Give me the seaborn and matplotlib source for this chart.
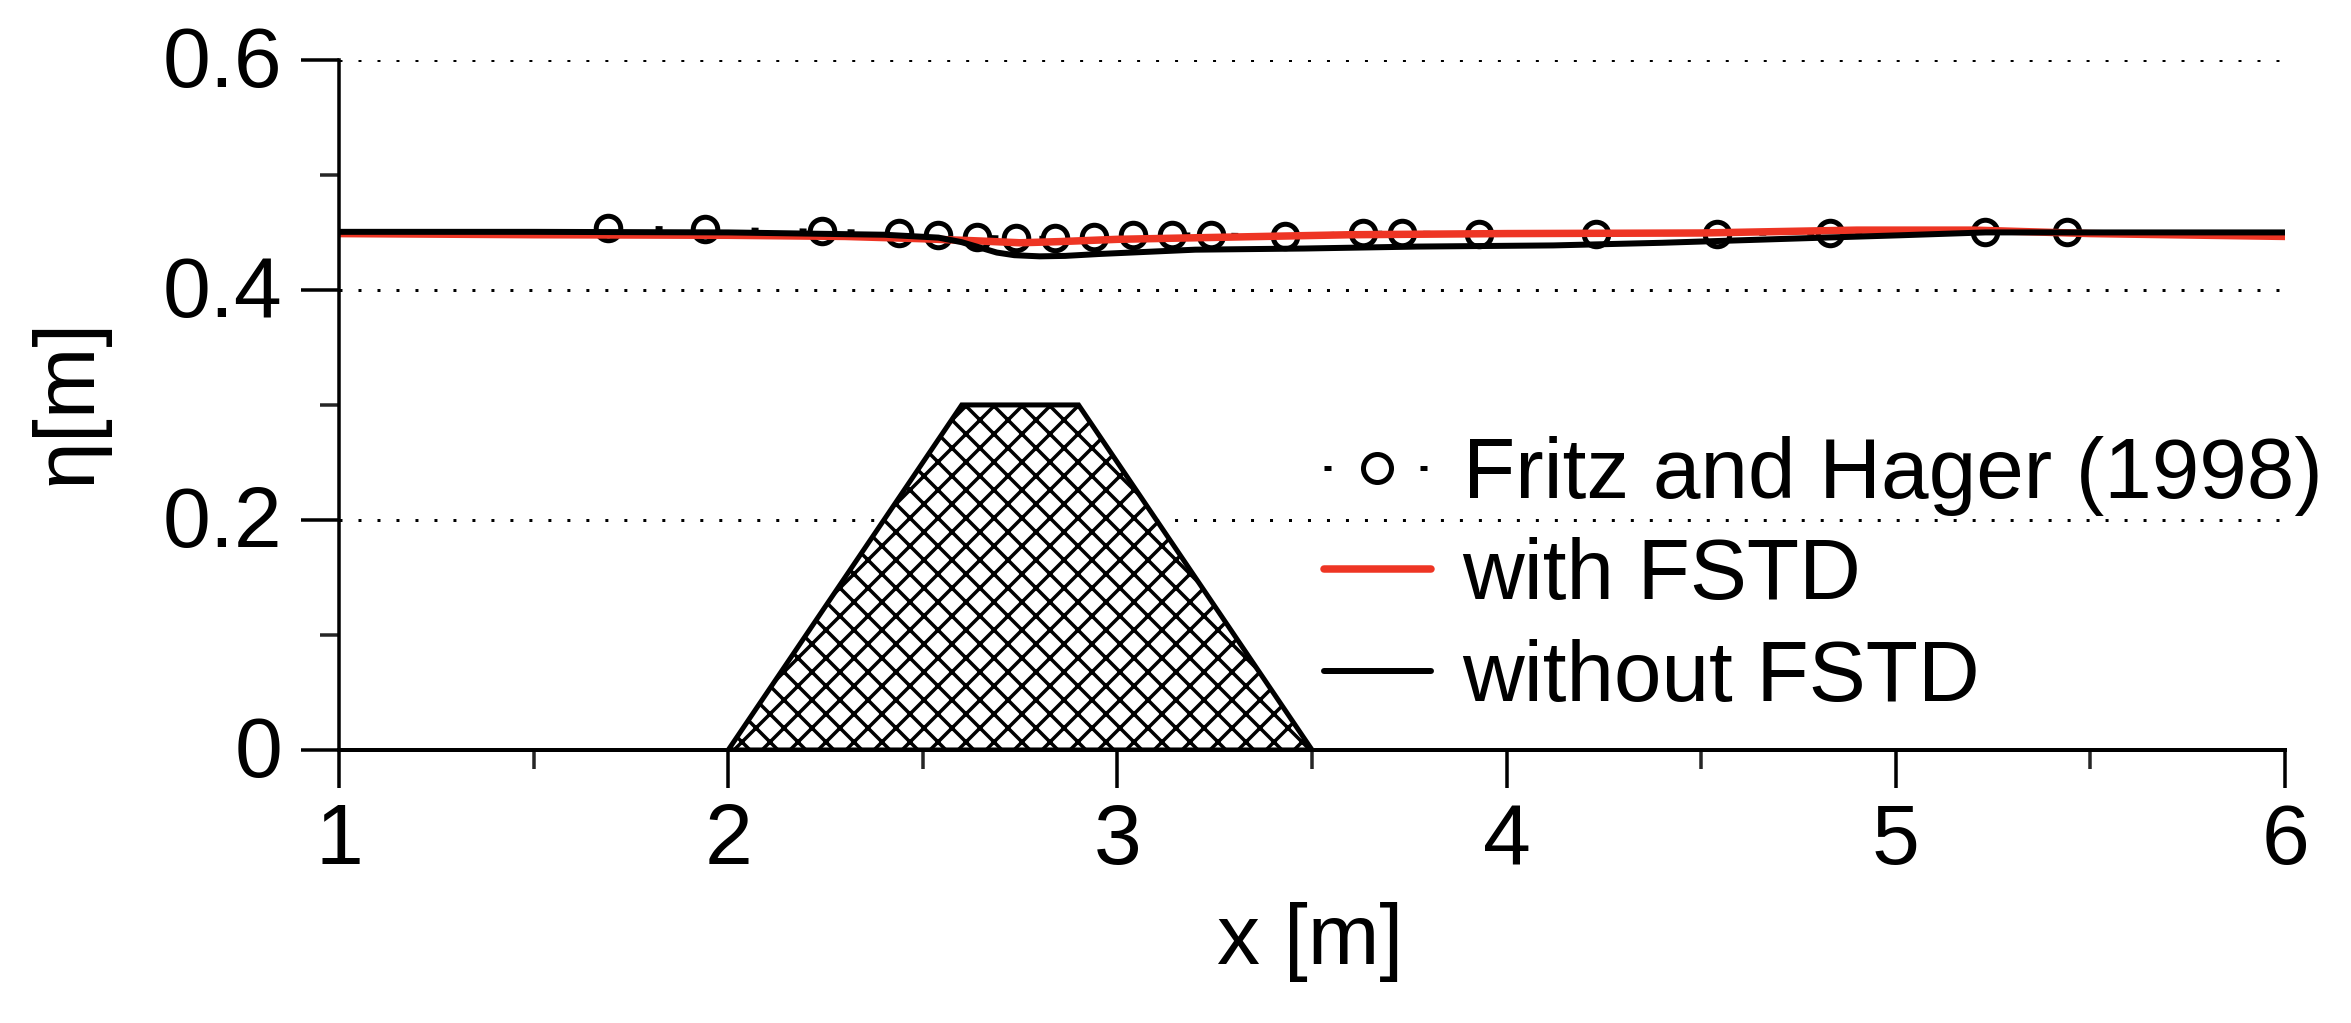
import matplotlib
import matplotlib.pyplot as plt
import matplotlib.transforms as mtransforms
import pandas as pd
import seaborn as sns

matplotlib.use("Agg")

exp_x = [1.69, 1.94, 2.24, 2.44, 2.54, 2.64, 2.74, 2.84, 2.94, 3.04, 3.14,
         3.24, 3.43, 3.63, 3.73, 3.93, 4.23, 4.54, 4.83, 5.23, 5.44]
exp_y = [0.454, 0.4527, 0.451, 0.4498, 0.448, 0.4458, 0.4449, 0.4449, 0.4464, 0.4478, 0.4478,
         0.4478, 0.4467, 0.4493, 0.4493, 0.449, 0.449, 0.449, 0.4498, 0.45, 0.45]

with_x = [1.0, 1.5, 2.0, 2.3, 2.5, 2.65, 2.75, 2.85, 3.0, 3.3, 3.6, 4.0, 4.5, 4.9, 5.2, 5.5, 6.0]
with_y = [0.449, 0.448, 0.4475, 0.4465, 0.4445, 0.4425, 0.441, 0.442, 0.444, 0.446, 0.448, 0.449,
          0.4495, 0.452, 0.452, 0.449, 0.4465]

without_x = [1.0, 1.5, 2.0, 2.2, 2.4, 2.54, 2.6, 2.645, 2.69, 2.735, 2.8, 2.866, 2.956, 3.2,
             3.48, 3.77, 4.12, 4.4, 4.79, 5.01, 5.23, 6.0]
without_y = [0.4505, 0.4505, 0.45, 0.449, 0.448, 0.4455, 0.4415, 0.437, 0.4325, 0.4302, 0.4292,
             0.4296, 0.4313, 0.435, 0.436, 0.4377, 0.4387, 0.441, 0.4452, 0.4475, 0.45, 0.45]

bump_x = [2.0, 2.6, 2.9, 3.5]
bump_y = [0.0, 0.3, 0.3, 0.0]

WIDTH, HEIGHT = 2351, 1023
# dpi is picked so the "xx" hatch comes out at the 28 px spacing of the original
DPI = 168


def px(n):
    return n * 72 / DPI


def main():
    sns.set_theme(style="white")
    plt.rcParams["font.family"] = ["Liberation Sans", "DejaVu Sans"]
    plt.rcParams["hatch.linewidth"] = px(3.5)

    fig = plt.figure(figsize=((WIDTH + 0.1) / DPI, (HEIGHT + 0.1) / DPI), dpi=DPI, facecolor="white")
    ax = fig.add_axes([339 / WIDTH, 1 - 750 / HEIGHT, (2285 - 339) / WIDTH, 690 / HEIGHT])

    exp_df = pd.DataFrame({"x": exp_x, "y": exp_y})
    with_df = pd.DataFrame({"x": with_x, "y": with_y})
    without_df = pd.DataFrame({"x": without_x, "y": without_y})

    sns.lineplot(
        data=exp_df, x="x", y="y", ax=ax, color="black", lw=px(5), sort=False, zorder=3,
        linestyle=(0, (1.4, 8.2)), marker="o", markersize=px(24.5), markeredgewidth=px(5),
        markerfacecolor="white", markeredgecolor="black", label="Fritz and Hager (1998)",
    )
    sns.lineplot(data=with_df, x="x", y="y", ax=ax, color="#ee3524", lw=px(7.5), zorder=4,
                 sort=False, label="with FSTD")
    sns.lineplot(data=without_df, x="x", y="y", ax=ax, color="black", lw=px(6), zorder=5,
                 sort=False, label="without FSTD")

    ax.fill(bump_x, bump_y, facecolor="white", edgecolor="black", hatch="xx", lw=px(5), zorder=2)

    ax.set_xlim(1, 6)
    ax.set_ylim(0, 0.6)
    ax.set_xticks([1, 2, 3, 4, 5, 6])
    ax.set_xticklabels(["1", "2", "3", "4", "5", "6"])
    ax.set_xticks([1.5, 2.5, 3.5, 4.5, 5.5], minor=True)
    ax.set_yticks([0, 0.2, 0.4, 0.6])
    ax.set_yticklabels(["0", "0.2", "0.4", "0.6"])
    ax.set_yticks([0.1, 0.3, 0.5], minor=True)

    ax.tick_params(axis="both", which="major", direction="out", bottom=True, left=True,
                   length=px(38), width=px(3.5), pad=px(14), labelsize=px(86), colors="black")
    ax.tick_params(axis="both", which="minor", direction="out", bottom=True, left=True,
                   length=px(19), width=px(3.5))
    ax.tick_params(axis="y", which="major", pad=px(19))
    # y labels sit a little high on their ticks in the original
    nudge = mtransforms.ScaledTranslation(0, 4.5 / DPI, fig.dpi_scale_trans)
    for label in ax.get_yticklabels():
        label.set_transform(label.get_transform() + nudge)

    ax.grid(False)
    ax.yaxis.grid(True, which="major", color="black", lw=px(3), linestyle=(0, (1, 5.33)), zorder=0)
    ax.set_axisbelow(True)

    sns.despine(ax=ax)
    for side in ["left", "bottom"]:
        ax.spines[side].set_color("black")
        ax.spines[side].set_zorder(6)
    ax.spines["left"].set_linewidth(px(3.5))
    ax.spines["bottom"].set_linewidth(px(4))

    ax.set_xlabel("")
    ax.set_ylabel("")
    fig.text(1310 / WIDTH, 1 - 942 / HEIGHT, "x [m]", fontsize=px(86), ha="center", va="center",
             color="black")
    fig.text(69 / WIDTH, 1 - 401 / HEIGHT, "η[m]", fontsize=px(86), ha="center", va="center",
             rotation=90, color="black")

    legend = ax.legend(
        loc="upper left", bbox_to_anchor=(1324 / WIDTH, 1 - 436 / HEIGHT),
        bbox_transform=fig.transFigure, frameon=False, fontsize=px(85.5), labelcolor="black",
        handlelength=1.25, handletextpad=0.37, labelspacing=0.25, borderpad=0, borderaxespad=0,
    )
    legend.legend_handles[0].set_markersize(px(28))

    fig.savefig("out.png", dpi=DPI, facecolor="white")
    plt.close(fig)


if __name__ == "__main__":
    main()
